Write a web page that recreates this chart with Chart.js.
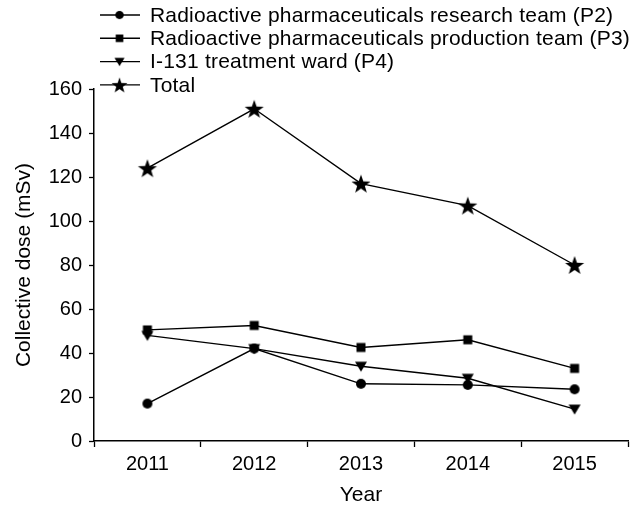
<!DOCTYPE html>
<html>
<head>
<meta charset="utf-8">
<script src="https://cdn.jsdelivr.net/npm/chart.js@4/dist/chart.umd.min.js"></script>
<style>
  html, body { margin: 0; padding: 0; background: #fff; }
  #wrap { width: 642px; height: 509px; }
</style>
</head>
<body>
<div id="wrap"><canvas id="chart"></canvas></div>
<script>
const years = ['2011', '2012', '2013', '2014', '2015'];
const seriesLabels = [
  'Radioactive pharmaceuticals research team (P2)',
  'Radioactive pharmaceuticals production team (P3)',
  'I-131 treatment ward (P4)',
  'Total'
];
const researchP2 = [17, 42, 26, 25.5, 23.5];
const productionP3 = [50.5, 52.5, 42.5, 46, 33];
const wardP4 = [48, 42, 34, 28.5, 14.5];
const totalDose = [124, 151, 117, 107, 80];
const yTicks = [0, 20, 40, 60, 80, 100, 120, 140, 160];

const FONT = '"Liberation Sans", Arial, sans-serif';

// little canvases used as point styles (so the star is filled)
function marker(kind) {
  const s = 24;
  const c = document.createElement('canvas');
  c.width = s; c.height = s;
  const ctx = c.getContext('2d');
  const m = s / 2;
  ctx.fillStyle = '#000';
  ctx.beginPath();
  if (kind === 'circle') {
    ctx.arc(m, m, 5, 0, Math.PI * 2);
  } else if (kind === 'square') {
    ctx.rect(m - 4.5, m - 4.5, 9, 9);
  } else if (kind === 'down') {
    ctx.moveTo(m - 6, m - 4.5);
    ctx.lineTo(m + 6, m - 4.5);
    ctx.lineTo(m, m + 5.5);
    ctx.closePath();
  } else {
    for (let i = 0; i < 10; i++) {
      const r = i % 2 === 0 ? 10 : 4;
      const a = -Math.PI / 2 + i * Math.PI / 5;
      const x = m + r * Math.cos(a), y = m + 1 + r * Math.sin(a);
      if (i === 0) ctx.moveTo(x, y); else ctx.lineTo(x, y);
    }
    ctx.closePath();
  }
  ctx.fill();
  return c;
}

const markers = [marker('circle'), marker('square'), marker('down'), marker('star')];

function line(label, data, img) {
  return {
    label,
    data,
    borderColor: '#000',
    backgroundColor: '#000',
    borderWidth: 1.4,
    pointStyle: img,
    pointRadius: 6,
    pointHoverRadius: 6,
    tension: 0
  };
}

// legend drawn by hand so it can sit over the top of the plot like the original
const legendPlugin = {
  id: 'manualLegend',
  afterDraw(chart) {
    const ctx = chart.ctx;
    ctx.save();
    ctx.font = '21px ' + FONT;
    if ('letterSpacing' in ctx) ctx.letterSpacing = '0.2px';
    ctx.fillStyle = '#000';
    ctx.strokeStyle = '#000';
    ctx.lineWidth = 1.4;
    ctx.textBaseline = 'middle';
    chart.data.datasets.forEach((ds, i) => {
      const y = 15 + i * 23.3;
      ctx.beginPath();
      ctx.moveTo(100, y);
      ctx.lineTo(140, y);
      ctx.stroke();
      ctx.drawImage(ds.pointStyle, 119.5 - 10, y - 10, 20, 20);
      ctx.fillText(ds.label, 150, y + 1);
    });
    ctx.restore();
  }
};

new Chart(document.getElementById('chart'), {
  type: 'line',
  data: {
    labels: years,
    datasets: [
      line(seriesLabels[0], researchP2, markers[0]),
      line(seriesLabels[1], productionP3, markers[1]),
      line(seriesLabels[2], wardP4, markers[2]),
      line(seriesLabels[3], totalDose, markers[3])
    ]
  },
  options: {
    animation: false,
    responsive: true,
    maintainAspectRatio: false,
    layout: { padding: { top: 89, right: 14, left: 0, bottom: 0 } },
    plugins: {
      legend: { display: false },
      tooltip: { enabled: false }
    },
    scales: {
      x: {
        offset: true,
        afterFit(scale) { scale.height = 68; },
        grid: { display: true, drawOnChartArea: false, offset: true, tickLength: 6, color: '#000', tickWidth: 1.3 },
        border: { color: '#000', width: 1.5 },
        ticks: { color: '#000', font: { family: FONT, size: 20 }, padding: 5, maxRotation: 0 },
        title: { display: true, text: 'Year', color: '#000', font: { family: FONT, size: 21 }, padding: { top: 0, bottom: 1 } }
      },
      y: {
        min: 0,
        max: 160,
        afterBuildTicks(axis) { axis.ticks = yTicks.map(v => ({ value: v })); },
        afterFit(scale) { scale.width = 94; },
        grid: { display: true, drawOnChartArea: false, tickLength: 5, color: '#000', tickWidth: 1.3 },
        border: { color: '#000', width: 1.5 },
        ticks: { color: '#000', font: { family: FONT, size: 20 }, padding: 7 },
        title: { display: true, text: 'Collective dose (mSv)', color: '#000', font: { family: FONT, size: 21 }, padding: { top: 12, bottom: 0 } }
      }
    }
  },
  plugins: [legendPlugin]
});
</script>
</body>
</html>
